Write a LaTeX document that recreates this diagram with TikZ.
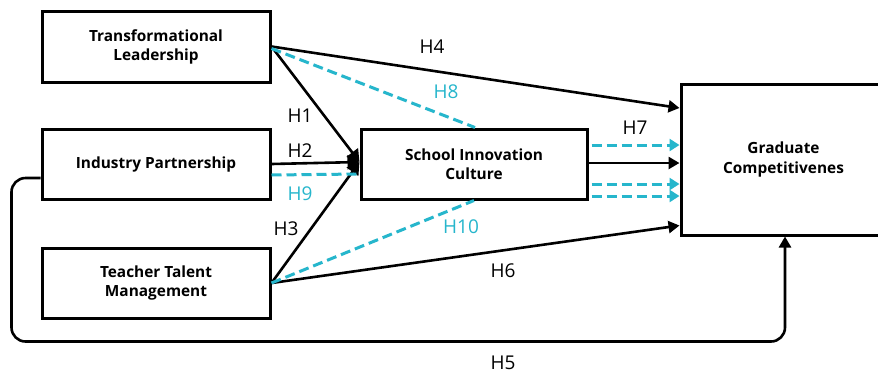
\documentclass[tikz,border=0pt]{standalone}
\usepackage{fontspec}
\setmainfont{Open Sans}
\usetikzlibrary{arrows.meta,calc}
\definecolor{linkcyan}{RGB}{38,182,204}
\begin{document}
\begin{tikzpicture}[x=1pt,y=-1pt,
  box/.style={draw,line width=3pt,rectangle,align=center,inner sep=0pt,
    font=\fontsize{15.4}{19}\selectfont\bfseries},
  hyp/.style={font=\fontsize{19}{22}\selectfont,inner sep=0pt},
  hypc/.style={hyp,text=linkcyan},
  solidlink/.style={line width=2.6pt,draw=black},
  dashlink/.style={line width=3pt,draw=linkcyan,dash pattern=on 10pt off 5pt},
  blackhead/.style={-{Triangle[length=11pt,width=12pt]}},
  hubhead/.style={-{Triangle[length=12pt,width=14pt]}},
  cyanhead/.style={-{Triangle[length=10pt,width=12pt]}}]
\useasboundingbox (0,0) rectangle (878,376);
\fill[white] (0,0) rectangle (878,376);

% constructs
\node[box,minimum width=228pt,minimum height=71pt] (TL) at (156,46.5) {Transformational\\Leadership};
\node[box,minimum width=228pt,minimum height=70pt] (IP) at (156,164) {Industry Partnership};
\node[box,minimum width=228pt,minimum height=70pt] (TTM) at (156,283) {Teacher Talent\\Management};
\node[box,minimum width=226pt,minimum height=70pt] (SIC) at (474,164) {School Innovation\\Culture};
\node[box,minimum width=205pt,minimum height=151pt,font=\fontsize{15.4}{20}\selectfont\bfseries] (GC) at (783.5,159.5) {Graduate\\Competitivenes};

\coordinate (hub) at ($(SIC.west)+(0,-2)$);

% direct paths to graduate competitiveness
\draw[solidlink,blackhead] (TL.east) -- ($(GC.west)+(0,-51.5)$);
\draw[solidlink,blackhead] (TTM.east) -- ($(GC.west)+(0,66)$);

% paths into school innovation culture
\draw[solidlink,hubhead] (TL.east) -- (hub);
\draw[solidlink,hubhead] (IP.east) -- (hub);
\draw[solidlink,hubhead] (TTM.east) -- (hub);

% mediated (dashed) paths
\draw[dashlink] ($(TL.east)+(0,2)$) -- ($(SIC.north)+(1,0)$);
\draw[dashlink] ($(IP.east)+(0,11)$) -- ($(SIC.west)+(0,10)$);
\draw[dashlink] (TTM.east) -- (SIC.south);

% school innovation culture to graduate competitiveness
\coordinate (m1) at ($(SIC.east)+(3,-19)$);
\coordinate (m2) at ($(SIC.east)+(-2,-1)$);
\coordinate (m3) at ($(SIC.east)+(3,20)$);
\coordinate (m4) at ($(SIC.east)+(3,32)$);
\draw[dashlink,cyanhead] (m1) -- (GC.west |- m1);
\draw[solidlink,blackhead] (m2) -- (GC.west |- m2);
\draw[dashlink,cyanhead] (m3) -- (GC.west |- m3);
\draw[dashlink,cyanhead] (m4) -- (GC.west |- m4);

% industry partnership around the bottom
\coordinate (h5start) at ($(IP.west)+(0,14)$);
\draw[solidlink,blackhead,rounded corners=14pt]
  (h5start) -- ++(-29,0) |- ($(GC.south)+(1.5,105)$) -- ($(GC.south)+(1.5,0)$);

% hypothesis labels
\node[hyp] (lH4) at (432,47) {H4};
\node[hypc] (lH8) at (446,92) {H8};
\node[hyp] (lH1) at (300,116) {H1};
\node[hyp] (lH2) at (300,151) {H2};
\node[hypc] (lH9) at (300,194) {H9};
\node[hyp] (lH3) at (286,229) {H3};
\node[hypc] (lH10) at (461,227) {H10};
\node[hyp] (lH7) at (635,128) {H7};
\node[hyp] (lH6) at (503,271) {H6};
\node[hyp] (lH5) at (503,363) {H5};
\end{tikzpicture}
\end{document}
